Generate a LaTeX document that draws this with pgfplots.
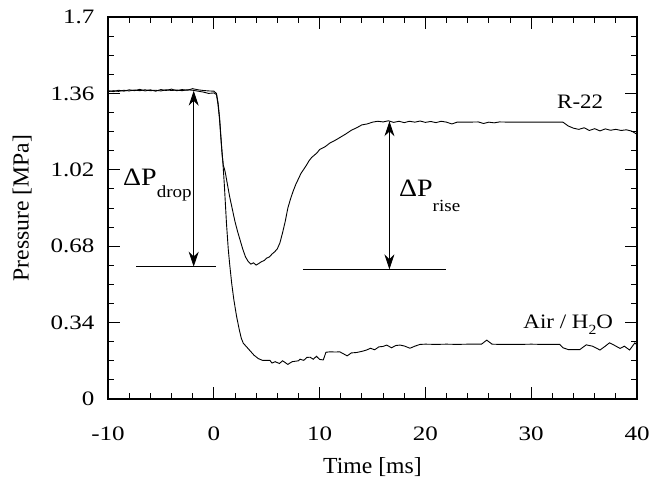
\documentclass[border=0pt]{standalone}
\usepackage{fontspec}
\setmainfont[FakeStretch=1.12]{Liberation Serif}
\newfontfamily\tickfont[FakeStretch=1.22]{Liberation Serif}
\newfontfamily\labfont[FakeStretch=1.03]{Liberation Serif}
\usepackage{pgfplots}
\pgfplotsset{compat=1.18}
\usetikzlibrary{arrows.meta}
\begin{document}
\begin{tikzpicture}
\begin{axis}[
  scale only axis, width=529pt, height=382pt,
  xmin=-10, xmax=40, ymin=0, ymax=1.7,
  xtick={-10,0,10,20,30,40}, xticklabels={-10,0,10,20,30,40},
  ytick={0,0.34,0.68,1.02,1.36,1.7}, yticklabels={0,0.34,0.68,1.02,1.36,1.7},
  minor x tick num=4, minor y tick num=3,
  major tick length=12pt, minor tick length=6pt,
  every tick/.style={black, line width=0.9pt},
  axis line style={line width=1.4pt},
  tick label style={font=\tickfont\fontsize{20.5}{24}\selectfont},
  xticklabel style={yshift=-24pt},
  yticklabel style={xshift=-10pt},
  xlabel={Time [ms]}, ylabel={Pressure [MPa]},
  label style={font=\labfont\fontsize{23}{27}\selectfont},
  xlabel style={at={(axis description cs:0.5,-0.178)}, anchor=center},
  ylabel style={at={(axis description cs:-0.162,0.5)}, anchor=center},
]
% R-22
\addplot[black, line width=0.9pt] coordinates {
(-10,1.372) (-9.5,1.368) (-9,1.374) (-8.5,1.370) (-8,1.376) (-7.5,1.372) (-7,1.378) (-6.5,1.371)
(-6,1.376) (-5.5,1.370) (-5,1.377) (-4.5,1.373) (-4,1.379) (-3.5,1.372) (-3,1.377) (-2.5,1.374)
(-2,1.381) (-1.5,1.376) (-1,1.373) (-0.5,1.371) (0,1.370) (0.25,1.36) (0.4,1.32) (0.55,1.25)
(0.7,1.15) (0.8,1.08) (0.9,1.04) (1.0,1.025) (1.1,1.005) (1.25,0.965) (1.5,0.90) (1.75,0.845)
(2.0,0.79) (2.25,0.745) (2.5,0.705) (2.75,0.665) (3.0,0.632) (3.25,0.612) (3.5,0.600) (3.75,0.606)
(4.0,0.596) (4.25,0.603) (4.5,0.611) (4.75,0.616) (5.0,0.627) (5.25,0.632) (5.5,0.645) (5.75,0.655)
(6.0,0.668) (6.25,0.695) (6.5,0.740) (6.75,0.790) (7.0,0.850) (7.25,0.890) (7.5,0.925) (7.75,0.955)
(8.0,0.980) (8.25,1.005) (8.5,1.022) (8.75,1.040) (9.0,1.060) (9.25,1.075) (9.5,1.085) (9.75,1.095)
(10.0,1.110) (10.5,1.122) (11,1.140) (11.5,1.152) (12,1.166) (12.5,1.180) (13,1.196) (13.5,1.207)
(14,1.220) (14.5,1.224) (15,1.232) (15.5,1.236) (16,1.233) (16.5,1.238) (17,1.231) (17.5,1.236)
(18,1.230) (18.5,1.236) (19,1.232) (19.5,1.237) (20,1.231) (20.5,1.235) (21,1.230) (21.5,1.236)
(22,1.232) (22.5,1.224) (23,1.232) (24,1.232) (25,1.233) (25.5,1.226) (26,1.232) (26.5,1.229)
(27,1.233) (28,1.232) (29,1.232) (30,1.232) (31,1.232) (32,1.232) (33,1.232) (33.5,1.215)
(34,1.205) (34.5,1.200) (35,1.207) (35.5,1.195) (36,1.203) (36.5,1.193) (37,1.202) (37.5,1.196)
(38,1.200) (38.5,1.195) (39,1.198) (39.5,1.192) (40,1.178)
};
% Air / H2O
\addplot[black, line width=0.9pt] coordinates {
(-10,1.368) (-9.5,1.372) (-9,1.369) (-8.5,1.374) (-8,1.371) (-7.5,1.375) (-7,1.372) (-6.5,1.376)
(-6,1.372) (-5.5,1.374) (-5,1.371) (-4.5,1.376) (-4,1.373) (-3.5,1.375) (-3,1.372) (-2.5,1.376)
(-2,1.374) (-1.5,1.370) (-1,1.366) (-0.5,1.360) (0,1.362) (0.25,1.355) (0.4,1.31) (0.55,1.24)
(0.7,1.14) (0.85,1.06) (1.0,0.95) (1.2,0.78) (1.37,0.665) (1.5,0.60) (1.69,0.515) (1.9,0.44)
(2.16,0.366) (2.4,0.31) (2.6,0.27) (2.79,0.248) (3.1,0.232) (3.42,0.215) (3.8,0.195) (4.2,0.180)
(4.6,0.172) (5.0,0.172) (5.3,0.172) (5.5,0.160) (5.8,0.166) (6.2,0.158) (6.5,0.170) (7.0,0.154)
(7.4,0.166) (8.0,0.170) (8.15,0.177) (8.5,0.172) (8.8,0.185) (9.1,0.186) (9.4,0.177) (9.7,0.190)
(10.0,0.176) (10.35,0.174) (10.6,0.208) (11.0,0.210) (11.5,0.209) (11.9,0.210) (12.3,0.200) (12.6,0.192)
(13.0,0.205) (13.5,0.207) (14.0,0.212) (14.45,0.218) (14.8,0.226) (15.2,0.219) (15.6,0.232) (16.0,0.234)
(16.34,0.240) (16.8,0.228) (17.2,0.238) (17.6,0.240) (18.0,0.236) (18.54,0.226) (19.0,0.235) (19.49,0.243)
(20,0.244) (21,0.243) (22,0.244) (23,0.243) (24,0.244) (25.3,0.244) (25.8,0.262) (26.3,0.244)
(27,0.243) (28,0.243) (29,0.243) (30,0.244) (31,0.243) (32,0.243) (32.7,0.243) (33.0,0.228)
(33.5,0.220) (34.6,0.220) (35.2,0.241) (35.8,0.235) (36.5,0.218) (37.0,0.235) (37.4,0.250) (37.9,0.238)
(38.4,0.225) (38.8,0.235) (39.3,0.218) (39.8,0.250) (40,0.240)
};
% reference lines
\addplot[black, line width=1.1pt] coordinates {(-7.35,0.589) (0.2,0.589)};
\addplot[black, line width=1.1pt] coordinates {(8.43,0.577) (21.95,0.577)};
% arrows
\addplot[black, line width=0.8pt, {Stealth[length=15pt,width=10pt]}-{Stealth[length=15pt,width=10pt]}] coordinates {(-1.9,1.372) (-1.9,0.589)};
\addplot[black, line width=0.8pt, {Stealth[length=15pt,width=10pt]}-{Stealth[length=15pt,width=10pt]}] coordinates {(16.6,1.236) (16.6,0.577)};
% labels
\node[anchor=base west, inner sep=0pt, font=\fontsize{25}{25}\selectfont] at (axis cs:-8.58,0.952) {ΔP\raisebox{-12pt}{\fontsize{17}{17}\selectfont drop}};
\node[anchor=base west, inner sep=0pt, font=\fontsize{25}{25}\selectfont] at (axis cs:17.5,0.899) {ΔP\raisebox{-15pt}{\fontsize{17}{17}\selectfont rise}};
\node[anchor=base west, inner sep=0pt, font=\fontsize{20.5}{20}\selectfont] at (axis cs:32.44,1.295) {R-22};
\node[anchor=base west, inner sep=0pt, font=\fontsize{20.5}{20}\selectfont] at (axis cs:29.25,0.314) {Air / H\raisebox{-6pt}{\fontsize{14}{14}\selectfont 2}O};
\end{axis}
\pgfresetboundingbox
\path ([xshift=-108pt,yshift=-82pt]current axis.south west) rectangle ([xshift=31pt,yshift=17pt]current axis.north east);
\end{tikzpicture}
\end{document}
